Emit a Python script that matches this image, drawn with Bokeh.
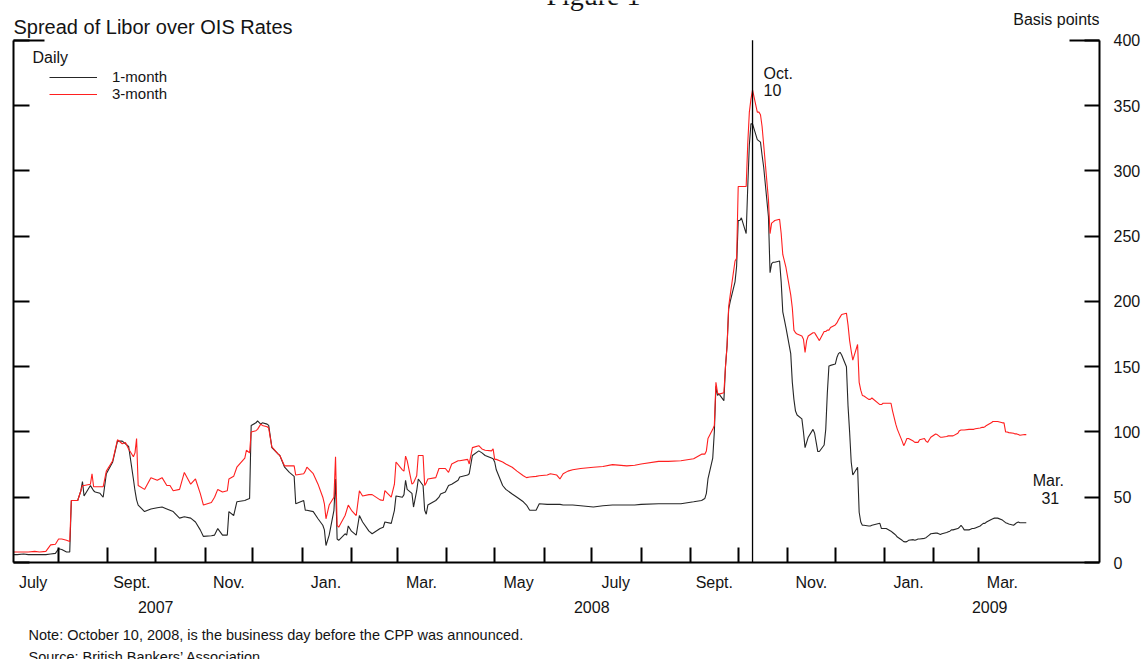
import pandas as pd
from bokeh.plotting import figure
from bokeh.models import (ColumnDataSource, LinearAxis, FixedTicker, Label, Title,
                          Legend, LegendItem, Range1d)
from bokeh.embed import file_html
from bokeh.resources import INLINE

# ---------------- data ----------------
dates = [
    "2007-07-03", "2007-07-06", "2007-07-10", "2007-07-13", "2007-07-17", "2007-07-20", "2007-07-24",
    "2007-07-27", "2007-07-30", "2007-08-01", "2007-08-03", "2007-08-06", "2007-08-08", "2007-08-09",
    "2007-08-13", "2007-08-15", "2007-08-16", "2007-08-17", "2007-08-21", "2007-08-22", "2007-08-23",
    "2007-08-24", "2007-08-27", "2007-08-29", "2007-08-31", "2007-09-04", "2007-09-07", "2007-09-10",
    "2007-09-12", "2007-09-14", "2007-09-17", "2007-09-18", "2007-09-19", "2007-09-20", "2007-09-24",
    "2007-09-28", "2007-10-02", "2007-10-05", "2007-10-08", "2007-10-10", "2007-10-12", "2007-10-16",
    "2007-10-19", "2007-10-23", "2007-10-26", "2007-10-29", "2007-10-31", "2007-11-05", "2007-11-07",
    "2007-11-09", "2007-11-12", "2007-11-15", "2007-11-16", "2007-11-19", "2007-11-21", "2007-11-26",
    "2007-11-27", "2007-11-29", "2007-11-30", "2007-12-03", "2007-12-04", "2007-12-06", "2007-12-07",
    "2007-12-10", "2007-12-11", "2007-12-13", "2007-12-17", "2007-12-18", "2007-12-21", "2007-12-24",
    "2007-12-27", "2007-12-28",
    "2008-01-02", "2008-01-03", "2008-01-04", "2008-01-08", "2008-01-11", "2008-01-14", "2008-01-15",
    "2008-01-16", "2008-01-18", "2008-01-21", "2008-01-22", "2008-01-23", "2008-01-24", "2008-01-28",
    "2008-01-29", "2008-01-30", "2008-02-01", "2008-02-04", "2008-02-06", "2008-02-08", "2008-02-12",
    "2008-02-14", "2008-02-19", "2008-02-21", "2008-02-22", "2008-02-26", "2008-02-28", "2008-02-29",
    "2008-03-04", "2008-03-05", "2008-03-06", "2008-03-07", "2008-03-10", "2008-03-11", "2008-03-13",
    "2008-03-14", "2008-03-17", "2008-03-18", "2008-03-19", "2008-03-20", "2008-03-25", "2008-03-27",
    "2008-03-28", "2008-03-31", "2008-04-02", "2008-04-04", "2008-04-08", "2008-04-09", "2008-04-14",
    "2008-04-15", "2008-04-17", "2008-04-21", "2008-04-23", "2008-04-25", "2008-04-29", "2008-04-30",
    "2008-05-01", "2008-05-02", "2008-05-06", "2008-05-08", "2008-05-12", "2008-05-15", "2008-05-19",
    "2008-05-21", "2008-05-23", "2008-05-27", "2008-05-29", "2008-06-03", "2008-06-05", "2008-06-09",
    "2008-06-11", "2008-06-13", "2008-06-16", "2008-06-19", "2008-06-24", "2008-07-02", "2008-07-08",
    "2008-07-14", "2008-07-23", "2008-07-28", "2008-08-01", "2008-08-12", "2008-08-18", "2008-08-26",
    "2008-09-03", "2008-09-08", "2008-09-10", "2008-09-11", "2008-09-12", "2008-09-15", "2008-09-16",
    "2008-09-17", "2008-09-18", "2008-09-19", "2008-09-22", "2008-09-23", "2008-09-24", "2008-09-25",
    "2008-09-26", "2008-09-29", "2008-09-30", "2008-10-01", "2008-10-02", "2008-10-03", "2008-10-06",
    "2008-10-07", "2008-10-08", "2008-10-09", "2008-10-10", "2008-10-13", "2008-10-14", "2008-10-15",
    "2008-10-16", "2008-10-17", "2008-10-20", "2008-10-21", "2008-10-22", "2008-10-23", "2008-10-24",
    "2008-10-27", "2008-10-28", "2008-10-29", "2008-10-30", "2008-10-31", "2008-11-03", "2008-11-04",
    "2008-11-05", "2008-11-06", "2008-11-07", "2008-11-10", "2008-11-11", "2008-11-12", "2008-11-13",
    "2008-11-14", "2008-11-17", "2008-11-18", "2008-11-19", "2008-11-20", "2008-11-21", "2008-11-24",
    "2008-11-25", "2008-11-26", "2008-11-27", "2008-11-28", "2008-12-01", "2008-12-02", "2008-12-03",
    "2008-12-04", "2008-12-05", "2008-12-08", "2008-12-09", "2008-12-10", "2008-12-11", "2008-12-12",
    "2008-12-15", "2008-12-16", "2008-12-17", "2008-12-18", "2008-12-19", "2008-12-22", "2008-12-23",
    "2008-12-24", "2008-12-29", "2008-12-30", "2008-12-31",
    "2009-01-02", "2009-01-05", "2009-01-06", "2009-01-07", "2009-01-08", "2009-01-09", "2009-01-12",
    "2009-01-13", "2009-01-14", "2009-01-15", "2009-01-16", "2009-01-19", "2009-01-20", "2009-01-21",
    "2009-01-22", "2009-01-23", "2009-01-26", "2009-01-27", "2009-01-28", "2009-01-29", "2009-01-30",
    "2009-02-02", "2009-02-03", "2009-02-04", "2009-02-05", "2009-02-06", "2009-02-09", "2009-02-10",
    "2009-02-11", "2009-02-12", "2009-02-13", "2009-02-16", "2009-02-17", "2009-02-18", "2009-02-19",
    "2009-02-20", "2009-02-23", "2009-02-24", "2009-02-25", "2009-02-26", "2009-02-27", "2009-03-02",
    "2009-03-03", "2009-03-04", "2009-03-05", "2009-03-06", "2009-03-09", "2009-03-10", "2009-03-11",
    "2009-03-12", "2009-03-13", "2009-03-16", "2009-03-17", "2009-03-18", "2009-03-19", "2009-03-20",
    "2009-03-23", "2009-03-24", "2009-03-25", "2009-03-26", "2009-03-27", "2009-03-30", "2009-03-31",
]

one_month = [
    6, 6, 6.5, 6, 6, 6, 6,
    6.5, 7, 10.5, 10, 8, 8, 47.5,
    47.5, 55, 62, 51, 59, 57, 55,
    54, 53, 50, 68, 77, 93, 93,
    91, 89, 64, 55, 48, 44, 39,
    41, 42, 42.5, 41, 40, 39, 34,
    35, 34, 31, 25, 20, 20.5, 21,
    26, 21, 21, 39, 36, 46.5, 47.5,
    48, 49, 105, 107, 108.5, 106, 107,
    106, 105, 88, 83, 82, 73, 69,
    66, 45,
    47.5, 40, 40, 39, 33.5, 28.5, 25,
    13, 21, 40, 64, 18, 17, 22,
    21, 28, 24, 21, 36, 31, 24,
    22, 26, 27, 31, 30, 40, 51,
    50, 52, 63, 56, 53, 42.5, 55,
    64, 59, 40, 37, 44, 47.5, 50,
    52.5, 54, 59, 60, 63, 65.5, 67,
    68, 82, 85.5, 84, 82, 80, 79.5,
    77, 71, 59, 56, 52.5, 50, 46.5,
    44, 40, 40, 45, 44.5, 44.5, 44.5,
    44.5, 44, 44, 44, 43.5, 42.5, 43.5,
    44, 44, 44, 44.5, 45, 45, 45,
    46.5, 47.5, 49, 53, 64, 80, 100,
    135, 128, 129, 124, 150, 166, 194,
    200, 215, 227, 262, 262, 264, 252,
    288, 320, 336, 336, 324, 323, 322,
    312, 303, 265, 222, 229, 230, 230,
    231, 215, 192, 186, 180, 160, 138,
    125, 116, 113, 110, 100, 88, 92,
    96, 102, 99, 92, 85, 85, 90,
    102, 130, 150.5, 151, 152, 157, 160,
    161, 159, 150, 120, 100, 77, 67,
    73, 38.5, 31, 28.5, 28.5, 28, 28,
    28.5, 30, 26, 26,
    26, 24, 23, 22, 21, 19.5, 17,
    16, 15.8, 16, 17, 17.5, 17, 17.5,
    18, 18, 18.5, 19, 20, 21, 22,
    22.5, 22.5, 22, 21.5, 22, 23, 23.5,
    24, 25, 25, 26, 27, 28.5, 27,
    25, 25, 25.5, 26, 26, 26.5, 28,
    29, 30, 30, 31, 33, 33.5, 34,
    34, 34, 32.5, 31.5, 30.5, 30, 29.5,
    28.5, 29.5, 30.5, 31, 30.5, 30.5, 30.5,
]

three_month = [
    8, 8, 8, 8, 8.5, 8, 8.5,
    13.5, 14, 18, 18, 17, 16, 47.5,
    47.5, 55, 59, 59, 60, 68, 58,
    58, 58, 58, 70, 78, 94, 91,
    92, 87, 81, 84, 95, 59, 56,
    65, 63, 65, 59, 59, 55, 56,
    69, 60, 64, 53, 44, 46, 50,
    56, 54, 55, 64, 66, 73, 80,
    86, 84, 100, 101, 102, 106, 105,
    104, 103, 88.5, 83, 82, 74, 74,
    74, 67,
    68, 70, 73, 68, 60, 50, 45,
    33.5, 44, 50, 81, 28.5, 27, 36,
    40, 44, 40, 36, 55, 51, 52,
    52, 48, 47.5, 55, 50, 60, 77,
    71, 70, 81.5, 78, 60, 61, 66.5,
    82, 82, 59, 61, 64, 65, 72,
    72, 72, 69, 75.5, 78, 78, 79,
    75.5, 88, 89.5, 87, 86, 85.5, 87,
    79, 79, 77, 75.5, 73, 70, 66.5,
    65, 65.5, 66, 66.5, 67, 68, 67,
    64, 68, 70, 71, 72, 73, 73.5,
    75, 74, 74.5, 75.5, 77.5, 77.5, 78,
    79.5, 83, 83, 85.5, 95, 102, 105,
    138, 130, 129, 130, 150, 166, 196,
    205, 231, 233, 288, 288, 288, 288,
    321, 345, 355, 362, 345, 345, 343,
    334, 320, 278, 252, 260, 261, 262,
    263, 252, 236, 231, 226, 205, 195,
    178, 176, 175, 173.5, 171, 161, 170,
    173.5, 176, 176, 174, 172, 170, 177,
    177, 178, 178, 180, 182, 183.5, 186,
    188, 190, 191, 182, 170, 162, 155,
    167, 138, 132, 128, 127.5, 125, 125,
    126, 121, 121, 122,
    122, 122, 116, 111, 106, 102, 93,
    89.5, 92, 95, 95, 93, 92, 92,
    92, 94, 95, 93, 92, 94, 96,
    98.5, 98, 97, 96, 96, 96.5, 97,
    97, 97, 97, 99, 101, 101.5, 101.5,
    101.5, 102, 102, 102, 102, 102.5, 103,
    103.5, 103.5, 104, 105, 107, 108, 108,
    108, 108, 107, 107, 100, 100, 99.5,
    99, 98.5, 98.5, 98, 97.5, 98, 98,
]

series_names = ["1-month", "3-month"]
month_tick_labels = ["July", "Sept.", "Nov.", "Jan.", "Mar.", "May",
                     "July", "Sept.", "Nov.", "Jan.", "Mar."]
month_label_dates = ["2007-07-16", "2007-09-16", "2007-11-16", "2008-01-16", "2008-03-16",
                     "2008-05-16", "2008-07-16", "2008-09-16", "2008-11-16", "2009-01-16",
                     "2009-03-16"]
year_labels = ["2007", "2008", "2009"]
year_label_dates = ["2007-10-01", "2008-07-01", "2009-03-08"]
y_ticks = [0, 50, 100, 150, 200, 250, 300, 350, 400]
event_date = "2008-10-10"
notes = ["Note: October 10, 2008, is the business day before the CPP was announced.",
         "Source: British Bankers\u2019 Association."]


def ms(d):
    return int(pd.Timestamp(d).value // 10**6)


month_starts = [ms(d) for d in pd.date_range("2007-08-01", "2009-03-01", freq="MS")]

FONT = "Liberation Sans"
TXT = "#141414"
W, H = 1144, 659
# frame: x 13..1099, y 0..564 ; value 400 sits 40px below the canvas top
Y_TOP = 400 + 40 / 1.31

p = figure(width=W, height=H, output_backend="svg", toolbar_location=None,
           x_axis_type=None, y_axis_type=None,
           x_range=Range1d(ms("2007-07-03 16:00"), ms("2009-05-16")),
           y_range=Range1d(0, Y_TOP),
           min_border_left=13, min_border_right=45, min_border_top=0, min_border_bottom=95)
p.outline_line_color = None
p.background_fill_color = "white"
p.border_fill_color = "white"

src = ColumnDataSource(dict(date=pd.to_datetime(dates), one=one_month, three=three_month))
r1 = p.line("date", "one", source=src, line_color="#262626", line_width=1.1)
r3 = p.line("date", "three", source=src, line_color="#ff1f1f", line_width=1.1)

# vertical marker at Oct. 10, 2008 (from 0 up to the top of the scale)
p.segment(x0=[pd.Timestamp(event_date)], y0=[y_ticks[0]], x1=[pd.Timestamp(event_date)],
          y1=[y_ticks[-1]], line_color="black", line_width=1.3)

# bottom axis: month-start ticks (minor, inward) + mid-month labels
xaxis = LinearAxis(
    ticker=FixedTicker(ticks=[ms(d) for d in month_label_dates], minor_ticks=month_starts),
    major_label_overrides={ms(d): t for d, t in zip(month_label_dates, month_tick_labels)},
    major_tick_in=0, major_tick_out=0, minor_tick_in=15, minor_tick_out=0,
    axis_line_width=2, minor_tick_line_width=2, axis_line_color="black",
    major_label_standoff=11, major_label_text_font=FONT, major_label_text_font_size="16px",
    major_label_text_color=TXT)
p.add_layout(xaxis, "below")

year_axis = LinearAxis(
    ticker=FixedTicker(ticks=[ms(d) for d in year_label_dates]),
    major_label_overrides={ms(d): t for d, t in zip(year_label_dates, year_labels)},
    axis_line_color=None, major_tick_line_color=None, minor_tick_line_color=None,
    major_label_standoff=1, major_label_text_font=FONT, major_label_text_font_size="16px",
    major_label_text_color=TXT)
p.add_layout(year_axis, "below")

for txt, so in [(notes[0], 18), (notes[1], -10)]:
    t = Title(text=txt, align="left", offset=15, standoff=0, text_font=FONT,
              text_font_size="14.5px", text_font_style="normal", text_color=TXT)
    try:
        t.standoff = so
    except Exception:
        t.standoff = max(so, 0)
    p.add_layout(t, "below")

ry = LinearAxis(
    ticker=FixedTicker(ticks=y_ticks, minor_ticks=[400]), bounds=(0, 400),
    major_tick_in=15, major_tick_out=0, minor_tick_in=30, minor_tick_out=0,
    axis_line_width=2, major_tick_line_width=2, minor_tick_line_width=2,
    major_label_standoff=14, major_label_text_font=FONT, major_label_text_font_size="16px",
    major_label_text_color=TXT)
p.add_layout(ry, "right")

ly = LinearAxis(
    ticker=FixedTicker(ticks=y_ticks, minor_ticks=[400]), bounds=(0, 400),
    major_tick_in=16, major_tick_out=0, minor_tick_in=31, minor_tick_out=0,
    axis_line_width=2, major_tick_line_width=2, minor_tick_line_width=2,
    major_label_standoff=0, major_label_overrides={t: "" for t in y_ticks})
p.add_layout(ly, "left")

legend = Legend(items=[LegendItem(label=series_names[0], renderers=[r1]),
                       LegendItem(label=series_names[1], renderers=[r3])],
                location=(36, 460), padding=0, margin=0, spacing=0,
                glyph_width=48, glyph_height=16, label_height=16, label_standoff=15,
                label_text_font=FONT, label_text_font_size="15px", label_text_color=TXT,
                border_line_color=None, background_fill_alpha=0)
p.add_layout(legend)


def lab(text, x, y, size="16px", align="left", xu="screen", x_offset=0, font=FONT):
    p.add_layout(Label(text=text, x=x, y=y, x_units=xu, y_units="screen", x_offset=x_offset,
                       text_font=font, text_font_size=size, text_color=TXT,
                       text_align=align, text_baseline="middle"))


lab("Figure 1", 580, 567, size="28px", align="center", font="Liberation Serif")
lab("Spread of Libor over OIS Rates", 0, 536, size="20px")
lab("Basis points", 1086, 543.5, align="right")
lab("Daily", 19, 505)
lab("Oct.", ms(event_date), 489.5, xu="data", x_offset=11)
lab("10", ms(event_date), 472.5, xu="data", x_offset=11)
lab("Mar.", ms(dates[-1]), 82, align="center", xu="data", x_offset=22)
lab("31", ms(dates[-1]), 65, align="center", xu="data", x_offset=24)

open("out.html", "w").write(file_html(p, INLINE))
